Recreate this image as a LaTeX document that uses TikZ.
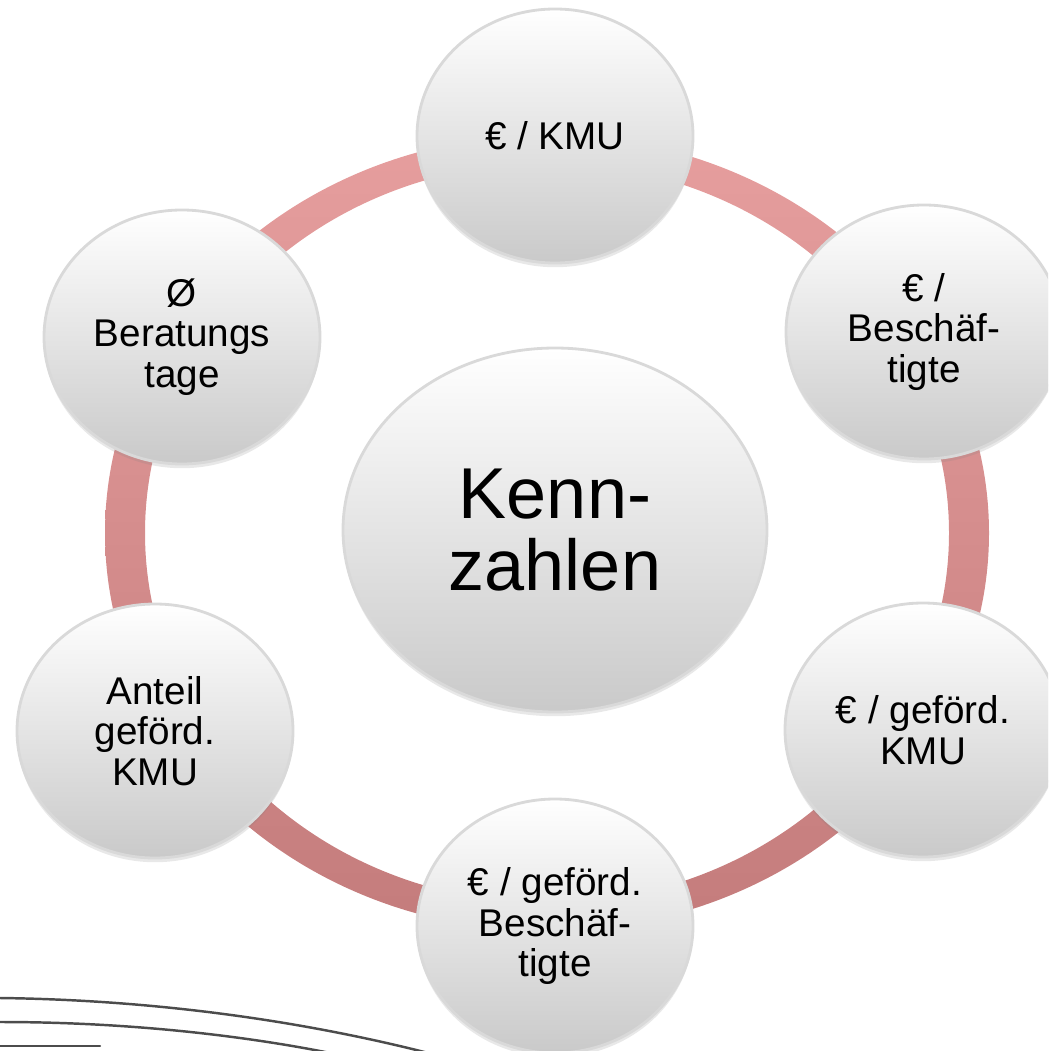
\documentclass[tikz,border=0pt]{standalone}
\usepackage{fontspec}
\setmainfont{Liberation Sans}
\usepackage{tikz}
\usetikzlibrary{
    positioning,
    shapes.geometric,
    shadows
}

\begin{document}
\begin{tikzpicture}[
    bubble/.style={
        ellipse,
        draw=gray!30,
        line width=0.8pt,
        inner sep=0pt,
        top color=white,
        bottom color=gray!42,
        drop shadow={opacity=0.18, shadow xshift=0pt, shadow yshift=-1.2pt},
        align=center,
        text=black
    },
    smallbubble/.style={bubble, minimum width=2.76cm, minimum height=2.54cm,
        font=\fontsize{11pt}{11.6pt}\selectfont},
    bigbubble/.style={bubble, minimum width=4.24cm, minimum height=3.64cm,
        font=\fontsize{20.5pt}{20.5pt}\selectfont},
    ring/.style={even odd rule,
        top color={rgb,255:red,230;green,158;blue,158},
        bottom color={rgb,255:red,196;green,124;blue,124}},
    swoosh/.style={line width=0.7pt, gray!60!black, line cap=round}
]
\useasboundingbox (0,0) rectangle (10.48,-10.51);
\clip (0,0) rectangle (10.48,-10.51);

% ---------------------------------------------------------------- Ring
\coordinate (ringc) at (5.47,-5.33);
\shade[ring] (ringc) ellipse [x radius=4.42, y radius=3.98]
             (ringc) ellipse [x radius=4.02, y radius=3.70];

% ---------------------------------------------------------------- Bubbles
\node[smallbubble] (kmu)      at (5.55,-1.36) {€ / KMU};
\node[smallbubble] (besch)    at (9.24,-3.32) {€ /\\Beschäf-\\tigte};
\node[smallbubble] (gefkmu)   at (9.23,-7.30) {€ / geförd.\\KMU};
\node[smallbubble] (gefbesch) at (5.55,-9.26) {€ / geförd.\\Beschäf-\\tigte};
\node[smallbubble] (anteil)   at (1.55,-7.31) {Anteil\\geförd.\\KMU};
\node[smallbubble] (tage)     at (1.82,-3.37) {Ø\\Beratungs\\tage};

% ---------------------------------------------------------------- Centre
\node[bigbubble] (kenn) at (5.55,-5.30) {Kenn-\\zahlen};

% ---------------------------------------------------------------- Swooshes
\draw[swoosh] (0,-9.98) .. controls (1.6,-10.00) and (3.1,-10.22) .. (4.40,-10.56);
\draw[swoosh] (0,-10.22) .. controls (1.3,-10.22) and (2.5,-10.36) .. (3.45,-10.56);
\draw[swoosh] (0,-10.46) -- (1.00,-10.46);

\end{tikzpicture}
\end{document}
